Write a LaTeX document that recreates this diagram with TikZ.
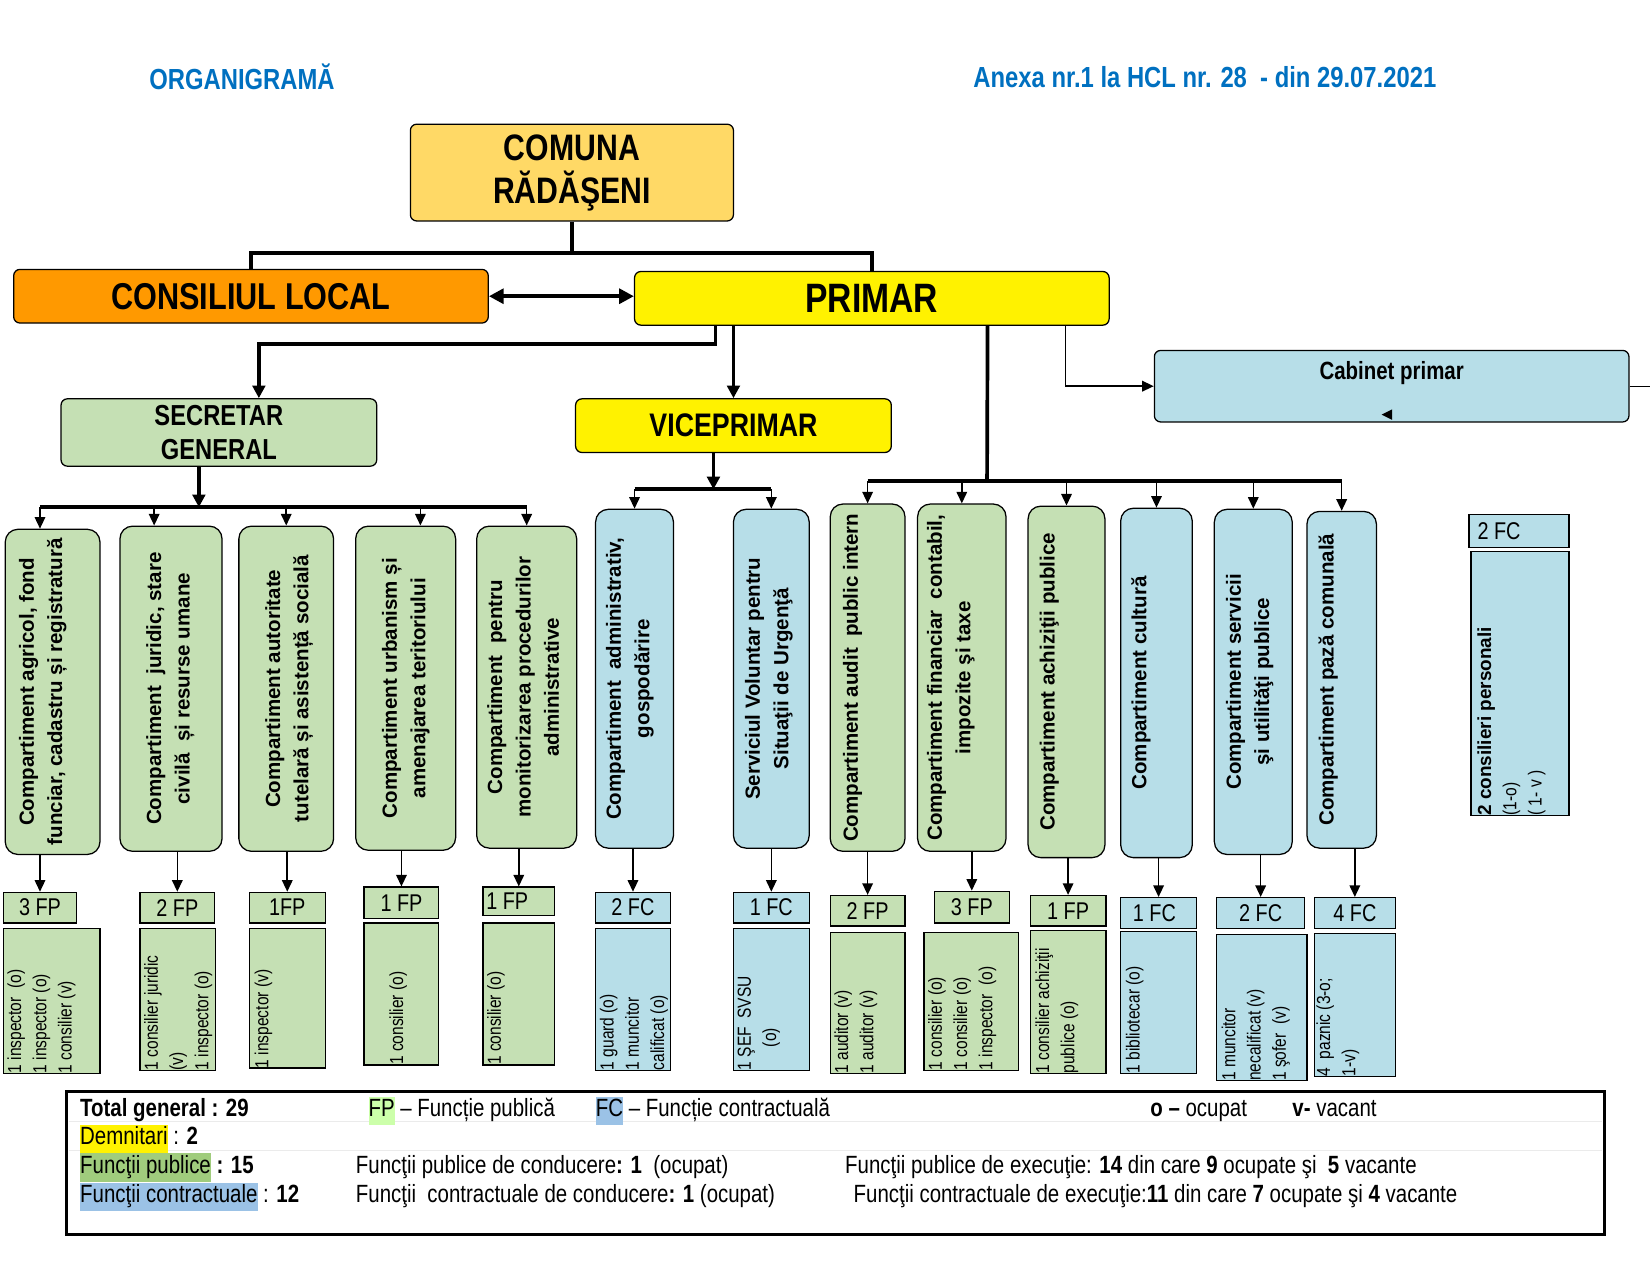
\documentclass[tikz,border=0pt]{standalone}
\usepackage{fontspec}
\setmainfont{Liberation Sans}
\newfontfamily\narrow[FakeStretch=0.82]{Liberation Sans}
\usepackage{graphicx}
\usetikzlibrary{arrows.meta}
\definecolor{comunafill}{RGB}{255,217,102}
\definecolor{consfill}{RGB}{255,153,0}
\definecolor{gfill}{RGB}{197,224,180}
\definecolor{bfill}{RGB}{183,222,232}
\definecolor{titleblue}{RGB}{0,112,192}
\definecolor{hlfp}{RGB}{204,255,170}
\definecolor{hlgreen}{RGB}{160,204,125}
\definecolor{hlblue}{RGB}{155,194,230}
\newcommand{\comptext}[4]{\rotatebox{90}{\begin{minipage}[c][#1][t]{#2}\vspace*{#3}\centering #4\end{minipage}}}
\newcommand{\listtext}[4]{\rotatebox{90}{\begin{minipage}[c][#1][t]{#2}\vspace*{#3}\raggedright #4\end{minipage}}}
\newcommand{\hlt}[2]{{\setlength{\fboxsep}{0pt}\colorbox{#1}{\strut #2}}}

\begin{document}
\begin{tikzpicture}[x=1pt,y=-1pt,
box/.style={draw,rounded corners=6pt,line width=1.2pt,inner sep=0pt},
cbox/.style={draw,rounded corners=12pt,line width=1.2pt,inner sep=0pt,font=\fontsize{19.5}{27}\selectfont\bfseries},
lbl/.style={draw,line width=1.2pt,inner sep=0pt,font=\narrow\fontsize{23}{26}\selectfont},
pbox/.style={draw,line width=1.2pt,inner sep=0pt,font=\narrow\fontsize{18}{24}\selectfont},
bus/.style={line width=3.5pt},
busarr/.style={line width=3.5pt,-{Triangle[length=12pt,width=12pt]}},
arr/.style={line width=1.5pt,-{Triangle[length=11pt,width=10pt]}},
leg/.style={anchor=base west,inner sep=0pt,font=\narrow\fontsize{23.7}{27}\selectfont},
ttl/.style={text=titleblue,font=\narrow\bfseries\fontsize{27.6}{30}\selectfont}]

\useasboundingbox (0,0) rectangle (1568,1211.7);

\node[ttl] (org) at (230,73) {ORGANIGRAMĂ};
\node[ttl] (anexa) at (1145,73) {Anexa nr.1 la HCL nr. 28\ \ - din 29.07.2021};

\node[box,fill=comunafill,minimum width=307pt,minimum height=92pt,align=center,font=\narrow\bfseries\fontsize{35}{41}\selectfont] (comuna) at (543.5,164) {COMUNA\\RĂDĂŞENI};
\node[box,fill=consfill,minimum width=451pt,minimum height=51pt,font=\narrow\bfseries\fontsize{35.5}{40}\selectfont] (consiliu) at (238.5,281.5) {CONSILIUL LOCAL};
\node[box,fill=yellow,minimum width=451pt,minimum height=51pt,font=\narrow\bfseries\fontsize{39}{44}\selectfont] (primar) at (828.5,283.5) {PRIMAR};
\node[box,fill=gfill,minimum width=300pt,minimum height=64pt,align=center,font=\narrow\bfseries\fontsize{27.5}{32}\selectfont] (secretar) at (208,411) {SECRETAR\\GENERAL};
\node[box,fill=yellow,minimum width=300pt,minimum height=51pt,font=\narrow\bfseries\fontsize{31}{36}\selectfont] (viceprimar) at (697,404.5) {VICEPRIMAR};
\node[box,fill=bfill,minimum width=451pt,minimum height=68pt,font=\narrow\bfseries\fontsize{23.7}{28}\selectfont] (cabinet) at (1322.5,367) {\raisebox{15pt}[\height][0pt]{Cabinet primar}};

\draw[bus] (comuna.south) -- ++(0,30) coordinate (jtop);
\draw[bus] (consiliu.north) |- (jtop) -| (primar.north);
\draw[bus,{Triangle[length=14pt,width=14pt]}-{Triangle[length=14pt,width=14pt]}] (consiliu.east) -- (consiliu.east -| primar.west);
\draw[busarr] ([xshift=-148.5]primar.south) -- ++(0,17) -| ([xshift=38]secretar.north);
\draw[busarr] (primar.south -| viceprimar.north) -- (viceprimar.north);
\draw[arr] ([xshift=184]primar.south) |- (cabinet.west);
\draw[line width=1.2pt] (cabinet.east) -- ++(25,0);
\fill (1313,394) -- (1323,389) -- (1323,399) -- cycle;

\coordinate (sbus) at (189,482);
\coordinate (vbus) at (678,465);
\coordinate (pbus) at (938,457);
\draw[busarr] ([xshift=-19]secretar.south) -- (sbus);
\draw[busarr] ([xshift=-19]viceprimar.south) -- (vbus);
\draw[bus] ([xshift=110]primar.south) -- (pbus);

\node[cbox,fill=gfill] (c1) at (50,657.5) {\comptext{90pt}{309pt}{13pt}{Compartiment agricol, fond\\funciar, cadastru și registratură}};
\node[cbox,fill=gfill] (c2) at (162.5,654.5) {\comptext{97pt}{309pt}{25pt}{Compartiment\ \ juridic, stare\\civilă\ \ și resurse umane}};
\node[cbox,fill=gfill] (c3) at (272,654.5) {\comptext{90pt}{309pt}{25pt}{Compartiment autoritate\\tutelară și asistență socială}};
\node[cbox,fill=gfill] (c4) at (385.5,654) {\comptext{95pt}{308pt}{25pt}{Compartiment urbanism și\\amenajarea teritoriului}};
\node[cbox,fill=gfill] (c5) at (500.5,653) {\comptext{95pt}{306pt}{10pt}{Compartiment\ \ pentru\\monitorizarea procedurilor\\administrative}};
\node[cbox,fill=bfill] (c6) at (603,645) {\comptext{74pt}{322pt}{10pt}{Compartiment\ \ administrativ,\\gospodărire}};
\node[cbox,fill=bfill] (c7) at (733,645) {\comptext{72pt}{322pt}{11pt}{Serviciul Voluntar pentru\\Situaţii de Urgenţă}};
\node[cbox,fill=gfill] (c8) at (824.5,644) {\comptext{71pt}{330pt}{12pt}{Compartiment audit\ \ public intern}};
\node[cbox,fill=gfill] (c9) at (914,644) {\comptext{84pt}{330pt}{9pt}{Compartiment financiar\ \ contabil,\\impozite şi taxe}};
\node[cbox,fill=gfill] (c10) at (1013.5,648) {\comptext{73pt}{334pt}{11pt}{Compartiment achiziţii publice}};
\node[cbox,fill=bfill] (c11) at (1099,649) {\comptext{68pt}{332pt}{10pt}{Compartiment cultură}};
\node[cbox,fill=bfill] (c12) at (1191,648) {\comptext{74pt}{328pt}{11pt}{Compartiment servicii\\şi utilităţi publice}};
\node[cbox,fill=bfill] (c13) at (1275,646) {\comptext{66pt}{320pt}{11pt}{Compartiment pază comunală}};

\draw[bus] ([xshift=-12]c1.north |- sbus) -- (c5.north |- sbus);
\draw[bus] (c6.north |- vbus) -- (c7.north |- vbus);
\draw[bus] (c8.north |- pbus) -- (c13.north |- pbus);
\foreach \c/\dx in {c1/-12,c2/-16,c3/0,c4/14,c5/0}
  \draw[arr] ([xshift=\dx]\c.north |- sbus) -- ([xshift=\dx]\c.north);
\foreach \c in {c6,c7}
  \draw[arr] (\c.north |- vbus) -- (\c.north);
\foreach \c in {c8,c9,c10,c11,c12,c13}
  \draw[arr] (\c.north |- pbus) -- (\c.north);

\node[lbl,fill=gfill,minimum width=70pt,minimum height=29pt] (l1) at (38,862.5) {3 FP};
\node[lbl,fill=gfill,minimum width=71pt,minimum height=29pt] (l2) at (168.5,862.5) {2 FP};
\node[lbl,fill=gfill,minimum width=72pt,minimum height=29pt] (l3) at (273,862.5) {1FP};
\node[lbl,fill=gfill,minimum width=71pt,minimum height=30pt] (l4) at (381.5,858) {1 FP};
\node[lbl,fill=gfill,minimum width=68pt,minimum height=27pt] (l5) at (493,856.5) {1 FP\hspace{22pt}\null};
\node[lbl,fill=bfill,minimum width=71pt,minimum height=29pt] (l6) at (601.5,862.5) {2 FC};
\node[lbl,fill=bfill,minimum width=72pt,minimum height=29pt] (l7) at (733,862.5) {1 FC};
\node[lbl,fill=gfill,minimum width=71pt,minimum height=29pt] (l8) at (824.5,865.5) {2 FP};
\node[lbl,fill=gfill,minimum width=71pt,minimum height=30pt] (l9) at (923.5,862) {3 FP};
\node[lbl,fill=gfill,minimum width=72pt,minimum height=29pt] (l10) at (1015,865.5) {1 FP};
\node[lbl,fill=bfill,minimum width=72pt,minimum height=29pt] (l11) at (1101,867.5) {1 FC\hspace{8pt}\null};
\node[lbl,fill=bfill,minimum width=84pt,minimum height=29pt] (l12) at (1198,867.5) {2 FC};
\node[lbl,fill=bfill,minimum width=77pt,minimum height=29pt] (l13) at (1287.5,867.5) {4 FC};
\node[lbl,fill=bfill,minimum width=95pt,minimum height=31pt] (l14) at (1443.5,504.5) {2 FC\hspace{38pt}\null};

\foreach \i in {1,...,13}
  \draw[arr] (c\i.south -| l\i.north) -- (l\i.north);

\node[pbox,fill=gfill] (p1) at (49,951) {\listtext{92pt}{138pt}{4pt}{1 inspector\ \ (o)\\1 inspector (o)\\1 consilier (v)}};
\node[pbox,fill=gfill] (p2) at (169,949.5) {\listtext{72pt}{135pt}{4pt}{1 consilier juridic\\(v)\\1 inspector (o)}};
\node[pbox,fill=gfill] (p3) at (273,948.5) {\listtext{72pt}{133pt}{5pt}{1 inspector (v)}};
\node[pbox,fill=gfill] (p4) at (381.5,944.5) {\listtext{71pt}{135pt}{24pt}{1 consilier (o)}};
\node[pbox,fill=gfill] (p5) at (493,944.5) {\listtext{68pt}{135pt}{4pt}{1 consilier (o)}};
\node[pbox,fill=bfill] (p6) at (601.5,949.5) {\listtext{71pt}{135pt}{4pt}{1 guard (o)\\1 muncitor\\calificat (o)}};
\node[pbox,fill=bfill] (p7) at (733,949.5) {\listtext{72pt}{135pt}{4pt}{1 ŞEF\ \ SVSU\\\hspace*{22pt}(o)}};
\node[pbox,fill=gfill] (p8) at (824.5,953) {\listtext{71pt}{134pt}{4pt}{1 auditor (v)\\1 auditor (v)}};
\node[pbox,fill=gfill] (p9) at (923,951.5) {\listtext{90pt}{131pt}{4pt}{1 consilier (o)\\1 consilier (o)\\1 inspector\ \ (o)}};
\node[pbox,fill=gfill] (p10) at (1015,952) {\listtext{72pt}{136pt}{5pt}{1 consilier achiziţii\\publice (o)}};
\node[pbox,fill=bfill] (p11) at (1101,952.5) {\listtext{72pt}{135pt}{5pt}{1 bibliotecar (o)}};
\node[pbox,fill=bfill] (p12) at (1199,957.5) {\listtext{86pt}{139pt}{5pt}{1 muncitor\\necalificat (v)\\1 şofer\ \ (v)}};
\node[pbox,fill=bfill] (p13) at (1287.5,955) {\listtext{77pt}{136pt}{2pt}{4\ \ paznic (3-o;\\1-v)}};
\node[pbox,fill=bfill] (p14) at (1444.5,649.5) {\listtext{93pt}{251pt}{6pt}{{\normalfont\bfseries 2 consilieri personali}\\(1-o)\\(\ 1- v )}};

\node[draw,line width=3pt,minimum width=1462pt,minimum height=136pt,inner sep=0pt] (legend) at (794,1105) {};
\draw[black!8,line width=1pt] (66,1066) -- (1522,1066);
\draw[black!8,line width=1pt] (66,1093) -- (1522,1093);

\node[leg] (tot) at (76,1061) {\textbf{Total general : 29}};
\node[leg] (fp) at (350,1061) {\hlt{hlfp}{FP} – Funcție publică};
\node[leg] (fc) at (566,1061) {\hlt{hlblue}{FC} – Funcție contractuală};
\node[leg] (ocup) at (1093,1061) {\textbf{o –} ocupat};
\node[leg] (vac) at (1228,1061) {\textbf{v-} vacant};
\node[leg] (dem) at (76,1088) {\hlt{yellow}{Demnitari} : \textbf{2}};
\node[leg] (fpub) at (76,1115) {\hlt{hlgreen}{Funcţii publice}\textbf{ : 15}};
\node[leg] (fpubc) at (338,1115) {Funcţii publice de conducere\textbf{: 1}\ \ (ocupat)};
\node[leg] (fpube) at (803,1115) {Funcţii publice de execuţie: \textbf{14} din care \textbf{9} ocupate şi\ \ \textbf{5} vacante};
\node[leg] (fcon) at (76,1143) {\hlt{hlblue}{Funcţii contractuale} : \textbf{12}};
\node[leg] (fconc) at (338,1143) {Funcţii\ \ contractuale de conducere\textbf{: 1} (ocupat)};
\node[leg] (fcone) at (811,1143) {Funcţii contractuale de execuţie:\textbf{11} din care \textbf{7} ocupate şi \textbf{4} vacante};

\end{tikzpicture}
\end{document}
